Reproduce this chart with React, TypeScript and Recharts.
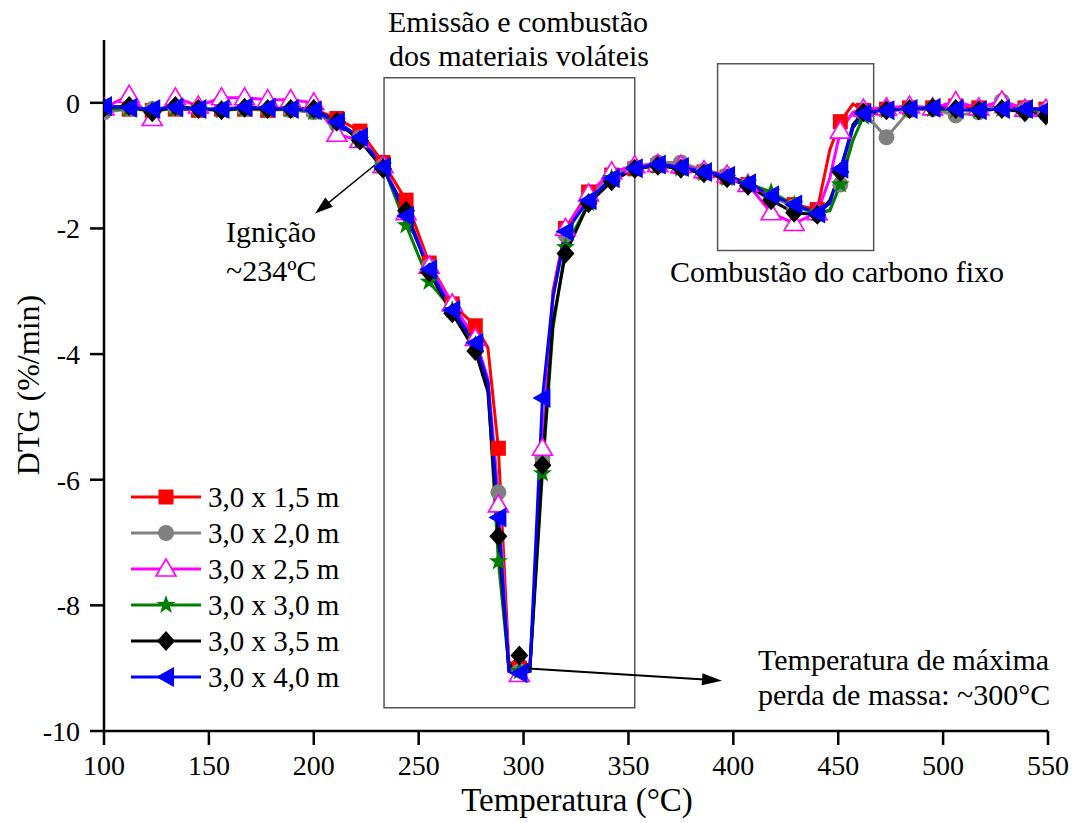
import {
  LineChart,
  Line,
  XAxis,
  YAxis,
  ReferenceArea,
  ReferenceLine,
  ReferenceDot,
} from 'recharts';

const FONT = '"Liberation Serif", "Times New Roman", serif';

// temperature grid (°C); points in hiddenTemps carry the line but no marker
const temps = [
  100, 112, 123, 134, 145, 156, 167, 178, 189, 200, 211, 222, 233, 244, 255, 266, 277, 283, 288, 293,
  298, 303, 309, 314, 320, 331, 342, 353, 364, 375, 386, 397, 407, 418, 429, 440, 446, 451, 457, 462,
  473, 484, 495, 506, 517, 528, 539, 549,
];
const hiddenTemps = [283, 293, 303, 314, 446, 457];

const xTicks = [100, 150, 200, 250, 300, 350, 400, 450, 500, 550];
const yTicks = [-10, -8, -6, -4, -2, 0];

const dtg15 = [
  -0.08, -0.1, -0.12, -0.1, -0.12, -0.1, -0.1, -0.12, -0.1, -0.1, -0.25, -0.45, -0.95, -1.55, -2.55, -3.2, -3.55, -3.9, -5.5, -8.9,
  -9.0, -9.0, -5.65, -3.0, -2.0, -1.42, -1.15, -1.05, -1.0, -1.02, -1.1, -1.18, -1.3, -1.5, -1.62, -1.7, -0.75, -0.3, -0.02, -0.12,
  -0.1, -0.08, -0.08, -0.05, -0.08, -0.05, -0.08, -0.1,
];
const dtg20 = [
  -0.15, -0.1, -0.1, -0.08, -0.1, -0.1, -0.1, -0.1, -0.12, -0.15, -0.35, -0.55, -1.0, -1.75, -2.6, -3.25, -3.8, -4.4, -6.2, -9.0,
  -9.05, -9.0, -5.65, -3.1, -2.1, -1.5, -1.15, -1.02, -0.95, -0.95, -1.08, -1.15, -1.3, -1.5, -1.65, -1.78, -1.7, -1.3, -0.4, -0.15,
  -0.55, -0.12, -0.1, -0.2, -0.15, 0.03, -0.1, -0.12,
];
const dtg25 = [
  -0.08, 0.12, -0.25, 0.08, -0.05, 0.08, 0.08, 0.05, 0.05, 0, -0.5, -0.6, -1.0, -1.75, -2.6, -3.2, -3.75, -4.4, -6.4, -9.05,
  -9.1, -9.05, -5.5, -3.1, -2.0, -1.45, -1.1, -1.0, -0.98, -1.0, -1.08, -1.15, -1.3, -1.75, -1.92, -1.75, -1.2, -0.45, -0.15, -0.1,
  -0.08, -0.05, -0.08, 0.02, -0.08, 0.03, -0.1, -0.1,
];
const dtg30 = [
  -0.1, -0.1, -0.12, -0.1, -0.1, -0.12, -0.1, -0.1, -0.1, -0.15, -0.3, -0.6, -1.0, -1.95, -2.85, -3.3, -3.85, -4.5, -7.3, -9.0,
  -9.05, -9.05, -5.9, -3.6, -2.3, -1.6, -1.2, -1.05, -1.0, -1.05, -1.12, -1.2, -1.28, -1.42, -1.62, -1.75, -1.72, -1.3, -0.6, -0.22,
  -0.12, -0.1, -0.1, -0.12, -0.12, -0.1, -0.12, -0.15,
];
const dtg35 = [
  -0.08, -0.05, -0.15, -0.05, -0.1, -0.12, -0.08, -0.1, -0.1, -0.1, -0.3, -0.6, -1.05, -1.72, -2.7, -3.35, -3.95, -4.6, -6.9, -9.0,
  -8.8, -9.0, -5.77, -3.5, -2.4, -1.6, -1.25, -1.05, -1.0, -1.05, -1.12, -1.2, -1.32, -1.55, -1.75, -1.78, -1.55, -1.1, -0.35, -0.15,
  -0.12, -0.1, -0.08, -0.1, -0.12, -0.1, -0.15, -0.2,
];
const dtg40 = [
  -0.05, -0.08, -0.1, -0.07, -0.1, -0.1, -0.07, -0.08, -0.1, -0.12, -0.3, -0.55, -1.02, -1.8, -2.65, -3.3, -3.82, -4.45, -6.6, -9.05,
  -9.08, -9.05, -4.7, -3.1, -2.05, -1.55, -1.2, -1.04, -0.98, -1.02, -1.1, -1.16, -1.28, -1.47, -1.62, -1.76, -1.6, -1.05, -0.4, -0.17,
  -0.12, -0.1, -0.08, -0.1, -0.12, -0.1, -0.1, -0.1,
];

const data = temps.map((t, i) => ({
  t,
  s15: dtg15[i],
  s20: dtg20[i],
  s25: dtg25[i],
  s30: dtg30[i],
  s35: dtg35[i],
  s40: dtg40[i],
}));

const series = [
  { key: 's15', name: '3,0 x 1,5 m', color: '#ff0000', kind: 'square' },
  { key: 's20', name: '3,0 x 2,0 m', color: '#808080', kind: 'circle' },
  { key: 's25', name: '3,0 x 2,5 m', color: '#ff00ff', kind: 'triangle' },
  { key: 's30', name: '3,0 x 3,0 m', color: '#008000', kind: 'star' },
  { key: 's35', name: '3,0 x 3,5 m', color: '#000000', kind: 'diamond' },
  { key: 's40', name: '3,0 x 4,0 m', color: '#0000ff', kind: 'left' },
];

function starPoints(x: number, y: number, R: number, r: number) {
  const pts: string[] = [];
  for (let k = 0; k < 10; k++) {
    const a = -Math.PI / 2 + (k * Math.PI) / 5;
    const rad = k % 2 === 0 ? R : r;
    pts.push(`${x + rad * Math.cos(a)},${y + rad * Math.sin(a)}`);
  }
  return pts.join(' ');
}

function Marker({ kind, x, y, color }: { kind: string; x: number; y: number; color: string }) {
  switch (kind) {
    case 'square':
      return <rect x={x - 7.5} y={y - 7.5} width={15} height={15} fill={color} />;
    case 'circle':
      return <circle cx={x} cy={y} r={8} fill={color} />;
    case 'triangle':
      return (
        <polygon
          points={`${x},${y - 10} ${x - 10},${y + 7} ${x + 10},${y + 7}`}
          fill="#fff"
          stroke={color}
          strokeWidth={1.6}
        />
      );
    case 'star':
      return <polygon points={starPoints(x, y, 10, 4)} fill={color} />;
    case 'diamond':
      return <polygon points={`${x},${y - 10} ${x + 9},${y} ${x},${y + 10} ${x - 9},${y}`} fill={color} />;
    default:
      return <polygon points={`${x - 10},${y} ${x + 8},${y - 10} ${x + 8},${y + 10}`} fill={color} />;
  }
}

const renderDot = (kind: string, color: string) => (p: any) => {
  const { cx, cy, payload, index } = p;
  if (cx == null || cy == null || hiddenTemps.includes(payload.t)) return <g key={`n${index}`} />;
  return (
    <g key={`d${index}`}>
      <Marker kind={kind} x={cx} y={cy} color={color} />
    </g>
  );
};

const arrowHead = (angle: number, len: number, half: number) => (p: any) => (
  <polygon
    points={`0,0 ${-len},${-half} ${-len},${half}`}
    transform={`translate(${p.cx},${p.cy}) rotate(${angle})`}
    fill="#000"
  />
);

export default function App() {
  const textStyle = { fontFamily: FONT, fill: '#000' };
  return (
    <div
      style={{
        position: 'absolute',
        left: 0,
        top: 0,
        width: 1090,
        height: 823,
        background: '#fff',
        fontFamily: FONT,
      }}
    >
      <style>{`.recharts-wrapper text, .recharts-cartesian-axis-tick-value { font-family: ${FONT}; }`}</style>
      <LineChart
        width={1090}
        height={823}
        data={data}
        margin={{ top: 40, right: 42, bottom: 32, left: 44 }}
        style={{ fontFamily: FONT }}
      >
        <XAxis
          type="number"
          dataKey="t"
          domain={[100, 550]}
          ticks={xTicks}
          allowDataOverflow
          height={60}
          axisLine={{ stroke: '#000', strokeWidth: 2.5 }}
          tickLine={{ stroke: '#000', strokeWidth: 2.5 }}
          tickSize={14}
          tickMargin={10}
          tick={{ fontSize: 28, fill: '#000', fontFamily: FONT }}
        />
        <YAxis
          type="number"
          domain={[-10, 1]}
          ticks={yTicks}
          allowDataOverflow
          width={60}
          axisLine={{ stroke: '#000', strokeWidth: 2.5 }}
          tickLine={{ stroke: '#000', strokeWidth: 2.5 }}
          tickSize={14}
          tickMargin={10}
          tick={{ fontSize: 28, fill: '#000', fontFamily: FONT }}
        />
        <ReferenceArea x1={233.5} x2={353} y1={-9.63} y2={0.4} fill="none" stroke="#555" strokeWidth={1.5} ifOverflow="visible" />
        <ReferenceArea x1={392.5} x2={466.9} y1={-2.35} y2={0.62} fill="none" stroke="#555" strokeWidth={1.5} ifOverflow="visible" />
        {series.map((s) => (
          <Line
            key={s.key}
            type="linear"
            dataKey={s.key}
            name={s.name}
            stroke={s.color}
            strokeWidth={3}
            dot={renderDot(s.kind, s.color)}
            activeDot={false}
            isAnimationActive={false}
          />
        ))}
        <ReferenceLine segment={[{ x: 230.6, y: -0.95 }, { x: 203, y: -1.7 }]} stroke="#000" strokeWidth={1.5} ifOverflow="visible" />
        <ReferenceDot x={200.6} y={-1.76} r={0} ifOverflow="visible" shape={arrowHead(141, 18, 6)} />
        <ReferenceLine segment={[{ x: 300.3, y: -9.0 }, { x: 390, y: -9.19 }]} stroke="#000" strokeWidth={2} ifOverflow="visible" />
        <ReferenceDot x={394.6} y={-9.2} r={0} ifOverflow="visible" shape={arrowHead(4, 20, 6)} />
      </LineChart>
      <svg
        width={1090}
        height={823}
        style={{ position: 'absolute', left: 0, top: 0, pointerEvents: 'none' }}
      >
        {/* legend */}
        <g style={textStyle}>
          {series.map((s, i) => {
            const cy = 497 + i * 36;
            return (
              <g key={s.key}>
                <line x1={131} y1={cy} x2={201} y2={cy} stroke={s.color} strokeWidth={3} />
                <Marker kind={s.kind} x={166} y={cy} color={s.color} />
                <text x={208} y={cy + 10} fontSize={29}>
                  {s.name}
                </text>
              </g>
            );
          })}
        </g>
        <g style={textStyle} fontSize={30}>
          <text x={518} y={32} textAnchor="middle">Emissão e combustão</text>
          <text x={519} y={66} textAnchor="middle">dos materiais voláteis</text>
          <text x={226} y={242}>Ignição</text>
          <text x={226} y={281}>~234ºC</text>
          <text x={670} y={282}>Combustão do carbono fixo</text>
          <text x={758} y={670}>Temperatura de máxima</text>
          <text x={758} y={705}>perda de massa: ~300°C</text>
        </g>
        <text x={577} y={811} textAnchor="middle" fontSize={33} style={textStyle}>
          Temperatura (°C)
        </text>
        <text
          x={39}
          y={385}
          textAnchor="middle"
          fontSize={32}
          style={textStyle}
          transform="rotate(-90 39 385)"
        >
          DTG (%/min)
        </text>
      </svg>
    </div>
  );
}
